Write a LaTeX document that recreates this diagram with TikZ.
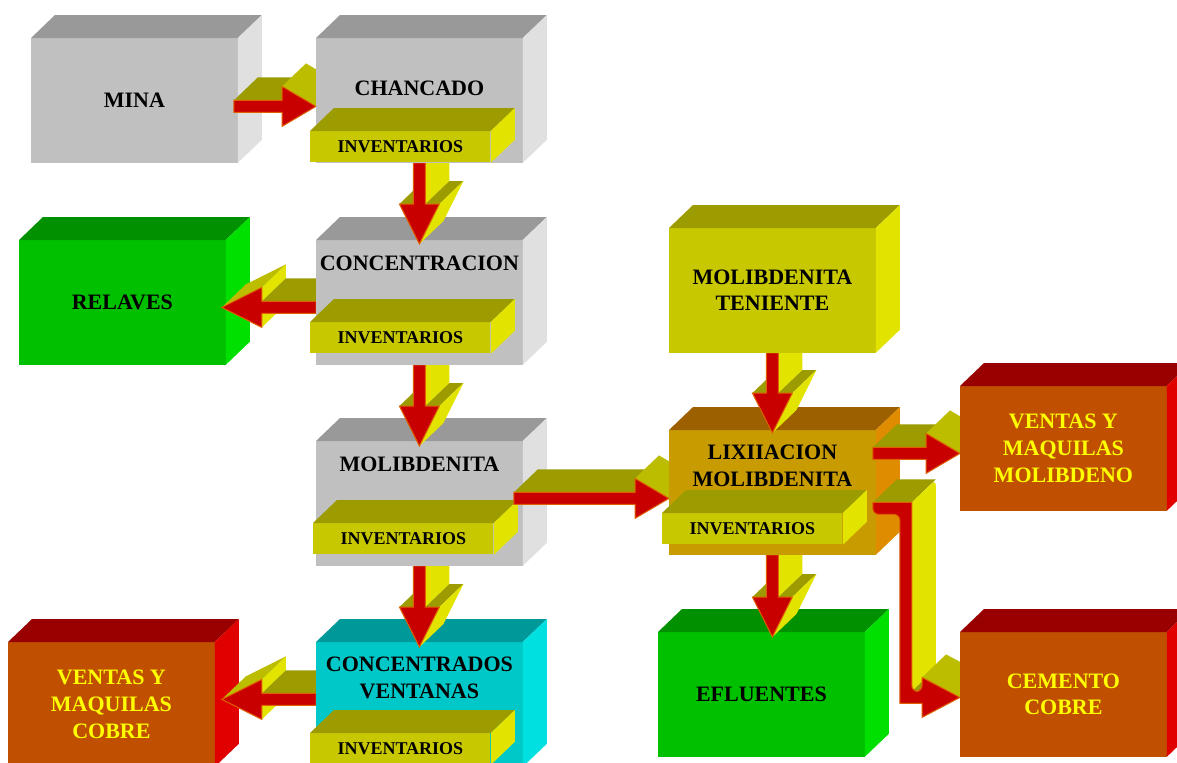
\documentclass[tikz,border=0pt]{standalone}
\usepackage{fontspec}
\setmainfont{Liberation Serif}
\usetikzlibrary{calc}

\definecolor{grF}{HTML}{C0C0C0}
\definecolor{grT}{HTML}{999999}
\definecolor{grS}{HTML}{E0E0E0}
\definecolor{ylF}{HTML}{C8C800}
\definecolor{ylT}{HTML}{9C9C00}
\definecolor{ylS}{HTML}{E3E300}
\definecolor{gnF}{HTML}{00C000}
\definecolor{gnT}{HTML}{009000}
\definecolor{gnS}{HTML}{00E000}
\definecolor{cyF}{HTML}{00C8C8}
\definecolor{cyT}{HTML}{009999}
\definecolor{cyS}{HTML}{00E0E0}
\definecolor{orF}{HTML}{C05000}
\definecolor{orT}{HTML}{990000}
\definecolor{orS}{HTML}{E00000}
\definecolor{auF}{HTML}{C89C00}
\definecolor{auT}{HTML}{9C6000}
\definecolor{auS}{HTML}{E08C00}
\definecolor{arR}{HTML}{C80000}
\definecolor{arE}{HTML}{E06000}
\definecolor{arK}{HTML}{BDBD00}
\definecolor{lbY}{HTML}{FFFF00}

\def\ddx{12pt}\def\ddy{11.5pt}
\def\shw{3pt}\def\hdw{10pt}\def\hdr{17pt}\def\hdl{20pt}\def\hdd{20pt}\def\hdb{19pt}

\newcommand\solid[4]{%
  \fill[#2] (#1.south west) rectangle (#1.north east);
  \fill[#3] (#1.north west) -- ++(\ddx,\ddy) -- ([shift={(\ddx,\ddy)}]#1.north east) -- (#1.north east) -- cycle;
  \fill[#4] (#1.north east) -- ++(\ddx,\ddy) -- ([shift={(\ddx,\ddy)}]#1.south east) -- (#1.south east) -- cycle;}

\newcommand\invbox[2]{%
  \node[inv] (#1) at #2 {INVENTARIOS};
  \fill[ylT] (#1.north west) -- ++(\ddx,\ddy) -- ([shift={(\ddx,\ddy)}]#1.north east) -- (#1.north east) -- cycle;
  \fill[ylS] (#1.north east) -- ++(\ddx,\ddy) -- ([shift={(\ddx,\ddy)}]#1.south east) -- (#1.south east) -- cycle;}

% right arrow: #1 tail, #2 tip
\newcommand\rarrow[2]{%
  \fill[ylT] let \p1=(#1),\p2=(#2) in (\x1,\y1+\shw) -- (\x2-\hdr,\y1+\shw) -- ++(\ddx,\ddy) -- (\x1+\ddx,\y1+\shw+\ddy) -- cycle;
  \fill[arK] let \p1=(#1),\p2=(#2) in (\x2-\hdr,\y1+\hdw) -- (\x2,\y1) -- ++(\ddx,\ddy) -- (\x2-\hdr+\ddx,\y1+\hdw+\ddy) -- cycle;
  \filldraw[arw] let \p1=(#1),\p2=(#2) in (\x1,\y1+\shw) -- (\x2-\hdr,\y1+\shw) -- (\x2-\hdr,\y1+\hdw) -- (\x2,\y1)
    -- (\x2-\hdr,\y1-\hdw) -- (\x2-\hdr,\y1-\shw) -- (\x1,\y1-\shw) -- cycle;}

% left arrow: #1 tail, #2 tip
\newcommand\larrow[2]{%
  \fill[ylS] let \p1=(#1),\p2=(#2) in (\x2+\hdl,\y1-\shw) -- (\x2+\hdl,\y1-\hdw) -- ++(\ddx,\ddy) -- (\x2+\hdl+\ddx,\y1-\shw+\ddy) -- cycle;
  \fill[ylS] let \p1=(#1),\p2=(#2) in (\x2+\hdl,\y1+\hdw) -- (\x2+\hdl,\y1+\shw) -- ++(\ddx,\ddy) -- (\x2+\hdl+\ddx,\y1+\hdw+\ddy) -- cycle;
  \fill[arK] let \p1=(#1),\p2=(#2) in (\x2,\y1) -- (\x2+\hdl,\y1+\hdw) -- ++(\ddx,\ddy) -- (\x2+\ddx,\y1+\ddy) -- cycle;
  \fill[ylT] let \p1=(#1),\p2=(#2) in (\x2+\hdl,\y1+\shw) -- (\x1,\y1+\shw) -- ++(\ddx,\ddy) -- (\x2+\hdl+\ddx,\y1+\shw+\ddy) -- cycle;
  \filldraw[arw] let \p1=(#1),\p2=(#2) in (\x1,\y1+\shw) -- (\x2+\hdl,\y1+\shw) -- (\x2+\hdl,\y1+\hdw) -- (\x2,\y1)
    -- (\x2+\hdl,\y1-\hdw) -- (\x2+\hdl,\y1-\shw) -- (\x1,\y1-\shw) -- cycle;}

% down arrow: #1 tail, #2 tip
\newcommand\darrow[2]{%
  \fill[ylT] let \p1=(#1),\p2=(#2) in (\x1-\hdw,\y2+\hdd) -- (\x1-\shw,\y2+\hdd) -- ++(\ddx,\ddy) -- (\x1-\hdw+\ddx,\y2+\hdd+\ddy) -- cycle;
  \fill[ylS] let \p1=(#1),\p2=(#2) in (\x1+\shw,\y1) -- (\x1+\shw,\y2+\hdd) -- ++(\ddx,\ddy) -- (\x1+\shw+\ddx,\y1+\ddy) -- cycle;
  \fill[ylT] let \p1=(#1),\p2=(#2) in (\x1+\shw,\y2+\hdd) -- (\x1+\hdw,\y2+\hdd) -- ++(\ddx,\ddy) -- (\x1+\shw+\ddx,\y2+\hdd+\ddy) -- cycle;
  \fill[ylS] let \p1=(#1),\p2=(#2) in (\x1+\hdw,\y2+\hdd) -- (\x1,\y2) -- ++(\ddx,\ddy) -- (\x1+\hdw+\ddx,\y2+\hdd+\ddy) -- cycle;
  \filldraw[arw] let \p1=(#1),\p2=(#2) in (\x1-\shw,\y1) -- (\x1+\shw,\y1) -- (\x1+\shw,\y2+\hdd) -- (\x1+\hdw,\y2+\hdd)
    -- (\x1,\y2) -- (\x1-\hdw,\y2+\hdd) -- (\x1-\shw,\y2+\hdd) -- cycle;}

% bent arrow: #1 tail, #2 bend, #3 tip
\newcommand\barrow[3]{%
  \fill[ylT] let \p1=(#1),\p2=(#3),\p3=(#2) in (\x1,\y1+\shw) -- (\x3+\shw,\y1+\shw) -- ++(\ddx,\ddy) -- (\x1+\ddx,\y1+\shw+\ddy) -- cycle;
  \fill[ylS] let \p1=(#1),\p2=(#3),\p3=(#2) in (\x3+\shw,\y1+\shw) -- (\x3+\shw,\y2+\shw) -- ++(\ddx,\ddy)
    [rounded corners=3pt] -- (\x3+\shw+\ddx,\y1+\shw+\ddy) [sharp corners] -- cycle;
  \fill[ylT] let \p1=(#1),\p2=(#3),\p3=(#2) in (\x3+\shw,\y2+\shw) -- (\x2-\hdb,\y2+\shw) -- ++(\ddx,\ddy) -- (\x3+\shw+\ddx,\y2+\shw+\ddy) -- cycle;
  \fill[arK] let \p1=(#1),\p2=(#3),\p3=(#2) in (\x2-\hdb,\y2+\hdw) -- (\x2,\y2) -- ++(\ddx,\ddy) -- (\x2-\hdb+\ddx,\y2+\hdw+\ddy) -- cycle;
  \filldraw[arw] let \p1=(#1),\p2=(#3),\p3=(#2) in (\x1,\y1+\shw) -- (\x3+\shw,\y1+\shw)
    [rounded corners=3pt] -- (\x3+\shw,\y2+\shw) -- (\x2-\hdb,\y2+\shw)
    [sharp corners] -- (\x2-\hdb,\y2+\hdw) -- (\x2,\y2) -- (\x2-\hdb,\y2-\hdw) -- (\x2-\hdb,\y2-\shw) -- (\x3-\shw,\y2-\shw)
    [rounded corners=3pt] -- (\x3-\shw,\y1-\shw) -- (\x1,\y1-\shw) [sharp corners] -- cycle;}

\begin{document}
\begin{tikzpicture}[x=0.5pt,y=-0.5pt,
  fbox/.style={anchor=north west,minimum width=103pt,minimum height=62pt,inner sep=0pt},
  inv/.style={anchor=north west,minimum width=90pt,minimum height=15.5pt,inner sep=0pt,
              fill=ylF,font=\fontsize{9}{10}\selectfont\bfseries},
  lbl/.style={inner sep=0pt,align=center,font=\fontsize{11}{13.3}\selectfont\bfseries},
  arw/.style={fill=arR,draw=arE,line width=0.5pt}]
  \useasboundingbox (0,0) rectangle (1177,762);
  \clip (0,0) rectangle (1177,762);
  \fill[white] (0,0) rectangle (1177,762);

  \path node[fbox] (mina)  at (31,38)   {}
        node[fbox] (chan)  at (316,38)  {}
        node[fbox] (relav) at (19,240)  {}
        node[fbox] (conc)  at (316,240) {}
        node[fbox] (mol)   at (316,441) {}
        node[fbox] (vcob)  at (8,642)   {}
        node[fbox] (cv)    at (316,642) {}
        node[fbox] (ten)   at (669,228) {}
        node[fbox] (lix)   at (669,430) {}
        node[fbox] (vmo)   at (960,386) {}
        node[fbox] (efl)   at (658,632) {}
        node[fbox] (cem)   at (960,632) {};

  \coordinate (a1) at ($(mina.east)+(-4,6)$);
  \coordinate (a2) at (chan.west |- a1);
  \coordinate (b1) at (chan.south);
  \coordinate (b2) at ($(conc.north)+(0,4)$);
  \coordinate (c1) at (conc.south);
  \coordinate (c2) at ($(mol.north)+(0,5)$);
  \coordinate (d1) at (mol.south);
  \coordinate (d2) at ($(cv.north)+(0,5)$);
  \coordinate (e1) at ($(conc.west)+(0,5)$);
  \coordinate (e2) at ($(relav.east |- e1)+(-4,0)$);
  \coordinate (f1) at ($(cv.west)+(0,-5)$);
  \coordinate (f2) at ($(vcob.east |- f1)+(7,0)$);
  \coordinate (g1) at ($(mol.east)+(-9,-5)$);
  \coordinate (g2) at (lix.west |- g1);
  \coordinate (h1) at (ten.south);
  \coordinate (h2) at ($(lix.north)+(0,3)$);
  \coordinate (i1) at (lix.south);
  \coordinate (i2) at ($(lix.south |- efl.north)+(0,5)$);
  \coordinate (j1) at ($(lix.east)+(-3,-39)$);
  \coordinate (j2) at (vmo.west |- j1);
  \coordinate (k1) at ($(lix.east)+(-3,16)$);
  \coordinate (kb) at ($(k1)+(33,0)$);
  \coordinate (k2) at ($(cem.west)+(0,3)$);

  \solid{mina}{grF}{grT}{grS}
  \node[lbl] (mina-t) at (mina) {MINA};
  \rarrow{a1}{a2}

  \solid{vcob}{orF}{orT}{orS}
  \node[lbl,text=lbY] (vcob-t) at (vcob) {VENTAS Y\\MAQUILAS\\COBRE};
  \larrow{f1}{f2}
  \solid{cv}{cyF}{cyT}{cyS}
  \node[lbl] (cv-t) at ($(cv.north)+(0,36)$) {CONCENTRADOS\\VENTANAS};
  \invbox{cv-inv}{($(cv.north west)+(-6,91)$)}
  \darrow{d1}{d2}
  \solid{mol}{grF}{grT}{grS}
  \node[lbl] (mol-t) at ($(mol.north)+(0,23)$) {MOLIBDENITA};
  \invbox{mol-inv}{($(mol.north west)+(-3,82)$)}
  \darrow{c1}{c2}
  \solid{relav}{gnF}{gnT}{gnS}
  \node[lbl] (relav-t) at (relav) {RELAVES};
  \larrow{e1}{e2}
  \solid{conc}{grF}{grT}{grS}
  \node[lbl] (conc-t) at ($(conc.north)+(0,23)$) {CONCENTRACION};
  \invbox{conc-inv}{($(conc.north west)+(-6,82)$)}
  \darrow{b1}{b2}
  \solid{chan}{grF}{grT}{grS}
  \node[lbl] (chan-t) at ($(chan.north)+(0,50)$) {CHANCADO};
  \invbox{chan-inv}{($(chan.north west)+(-6,93)$)}

  \solid{efl}{gnF}{gnT}{gnS}
  \node[lbl] (efl-t) at (efl) {EFLUENTES};
  \darrow{i1}{i2}
  \rarrow{g1}{g2}
  \solid{lix}{auF}{auT}{auS}
  \node[lbl] (lix-t) at ($(lix.north)+(0,36)$) {LIXIIACION\\MOLIBDENITA};
  \invbox{lix-inv}{($(lix.north west)+(-7,83)$)}
  \darrow{h1}{h2}
  \solid{ten}{ylF}{ylT}{ylS}
  \node[lbl] (ten-t) at (ten) {MOLIBDENITA\\TENIENTE};
  \rarrow{j1}{j2}
  \solid{vmo}{orF}{orT}{orS}
  \node[lbl,text=lbY] (vmo-t) at (vmo) {VENTAS Y\\MAQUILAS\\MOLIBDENO};
  \barrow{k1}{kb}{k2}
  \solid{cem}{orF}{orT}{orS}
  \node[lbl,text=lbY] (cem-t) at (cem) {CEMENTO\\COBRE};
\end{tikzpicture}
\end{document}
